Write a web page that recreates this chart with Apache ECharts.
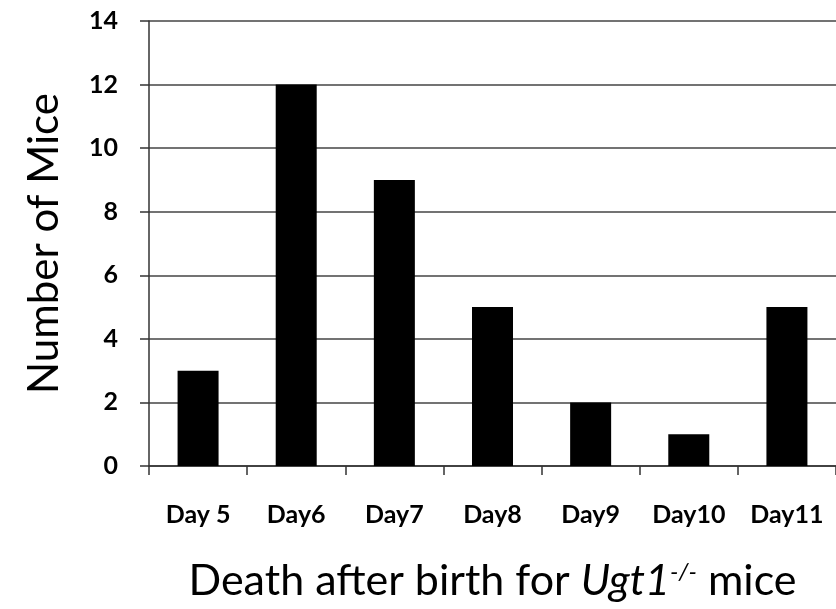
<!DOCTYPE html>
<html>
<head>
<meta charset="utf-8">
<script src="https://cdn.jsdelivr.net/npm/echarts@6/dist/echarts.min.js"></script>
<style>
  html, body { margin: 0; padding: 0; background: #fff; }
  #chart { width: 836px; height: 609px; }
</style>
</head>
<body>
<div id="chart"></div>
<script>
// data
const days = ['Day 5', 'Day6', 'Day7', 'Day8', 'Day9', 'Day10', 'Day11']
const mice = [3, 12, 9, 5, 2, 1, 5]

var chartDom = document.getElementById('chart');
var myChart = echarts.init(chartDom, null, {renderer: 'canvas'});
var option;

const font = 'Lato, "Open Sans", sans-serif'

option = {
  backgroundColor: '#fff',
  animation: false,
  grid: {
    left: 149,
    top: 21,
    width: 690,
    height: 445
  },
  xAxis: {
    type: 'category',
    data: days,
    axisLine: {lineStyle: {color: '#333', width: 1.5}},
    axisTick: {show: true, length: 9, alignWithLabel: false, lineStyle: {color: '#333', width: 1.5}},
    axisLabel: {
      color: '#000', fontSize: 25, fontWeight: 'bold', fontFamily: font, margin: 36
    },
    name: '{n|Death after birth for }{i|Ugt1}{s|-/-}{n| mice}',
    nameLocation: 'middle',
    nameGap: 94,
    nameTextStyle: {
      rich: {
        n: {fontSize: 43, color: '#000', fontFamily: font},
        i: {fontSize: 43, color: '#000', fontFamily: font, fontStyle: 'italic'},
        s: {fontSize: 24, color: '#000', fontFamily: font, fontStyle: 'italic', verticalAlign: 'top', padding: [0, 0, 18, 0]}
      }
    }
  },
  yAxis: {
    type: 'value',
    min: 0,
    max: 14,
    interval: 2,
    axisLine: {show: true, lineStyle: {color: '#333', width: 1.5}},
    axisTick: {show: true, length: 9, lineStyle: {color: '#333', width: 1.5}},
    splitLine: {show: true, lineStyle: {color: '#444', width: 1.5}},
    axisLabel: {
      color: '#000', fontSize: 25, fontWeight: 'bold', fontFamily: font, margin: 31
    },
    name: 'Number of Mice',
    nameLocation: 'middle',
    nameGap: 84,
    nameTextStyle: {fontSize: 42, color: '#000', fontFamily: font}
  },
  series: [
    {
      type: 'bar',
      data: mice,
      barWidth: 41,
      itemStyle: {color: '#000'}
    }
  ]
};
option && myChart.setOption(option);
</script>
</body>
</html>
